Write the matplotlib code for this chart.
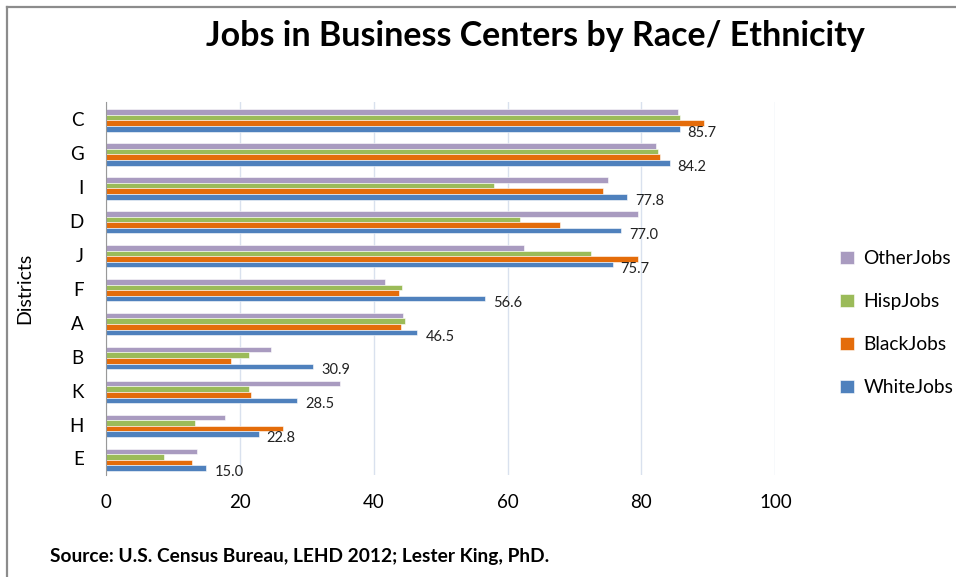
import matplotlib
matplotlib.use("Agg")
import matplotlib.pyplot as plt
import numpy as np
from matplotlib.lines import Line2D

districts = ["C", "G", "I", "D", "J", "F", "A", "B", "K", "H", "E"]
white_jobs = [85.7, 84.2, 77.8, 77.0, 75.7, 56.6, 46.5, 30.9, 28.5, 22.8, 15.0]
black_jobs = [89.4, 82.8, 74.2, 67.8, 79.5, 43.8, 44.1, 18.6, 21.7, 26.5, 12.9]
hisp_jobs = [85.8, 82.5, 57.9, 61.8, 72.4, 44.2, 44.7, 21.4, 21.4, 13.3, 8.7]
other_jobs = [85.5, 82.2, 75.0, 79.5, 62.5, 41.7, 44.4, 24.6, 34.9, 17.8, 13.6]
white_labels = ["85.7", "84.2", "77.8", "77.0", "75.7", "56.6", "46.5", "30.9", "28.5", "22.8", "15.0"]

series = [("OtherJobs", other_jobs, "#A99BC0"),
          ("HispJobs", hisp_jobs, "#9BBB59"),
          ("BlackJobs", black_jobs, "#E46C0A"),
          ("WhiteJobs", white_jobs, "#4F81BD")]

plt.rcParams['font.family'] = ['Lato', 'DejaVu Sans']

fig = plt.figure(figsize=(9.56, 5.77), dpi=100)
# chart border (top and left edges visible)
bx, by = 6.5 / 956, 1 - 6.5 / 577
fig.add_artist(Line2D([bx, 1.0], [by, by], transform=fig.transFigure,
                      color="#8c8c8c", linewidth=1.6))
fig.add_artist(Line2D([bx, bx], [0.0, by], transform=fig.transFigure,
                      color="#8c8c8c", linewidth=1.6))

ax = fig.add_axes([0.111, 0.176, 0.700, 0.647])

y = np.arange(len(districts))
h = 0.165
offsets = [-1.5 * h, -0.5 * h, 0.5 * h, 1.5 * h]
handles = []
for (name, vals, col), off in zip(series, offsets):
    b = ax.barh(y + off + 0.04, vals, height=h, color=col, edgecolor="white",
                linewidth=0.4, label=name, zorder=3)
    handles.append(b)

for yi, v, lab in zip(y, white_jobs, white_labels):
    ax.text(v + 1.2, yi + 1.5 * h + 0.04 + 0.12, lab, fontsize=10.5, va="center", ha="left",
            color="#222222", zorder=4)

ax.set_ylim(len(districts) - 0.5, -0.5)
ax.set_xlim(0, 100)
ax.set_xticks([0, 20, 40, 60, 80, 100])
ax.set_yticks(y)
ax.set_yticklabels(districts)
ax.tick_params(axis="y", length=0, labelsize=13.5, pad=16)
ax.tick_params(axis="x", length=0, labelsize=13.5, pad=13)
ax.grid(axis="x", color="#D9E1EE", linewidth=1.0, zorder=0)
for s in ["top", "right", "bottom"]:
    ax.spines[s].set_visible(False)
ax.spines["left"].set_color("#999999")
ax.spines["left"].set_zorder(5)
ax.set_ylabel("Districts", fontsize=14, labelpad=26)

leg = fig.legend(handles=handles, labels=[s[0] for s in series], loc="center left",
                 bbox_to_anchor=(0.879, 0.44), frameon=False, fontsize=13.8,
                 handlelength=0.7, handleheight=0.7, handletextpad=0.5,
                 labelspacing=1.35, borderaxespad=0.0, borderpad=0.0)

fig.text(0.56, 0.937, "Jobs in Business Centers by Race/ Ethnicity", ha="center", va="center",
         fontsize=24.5, fontweight="bold", color="#000000")
fig.text(0.052, 0.036, "Source: U.S. Census Bureau, LEHD 2012; Lester King, PhD.", ha="left",
         va="center", fontsize=13.8, fontweight="bold")

fig.savefig("out.png", dpi=100)
